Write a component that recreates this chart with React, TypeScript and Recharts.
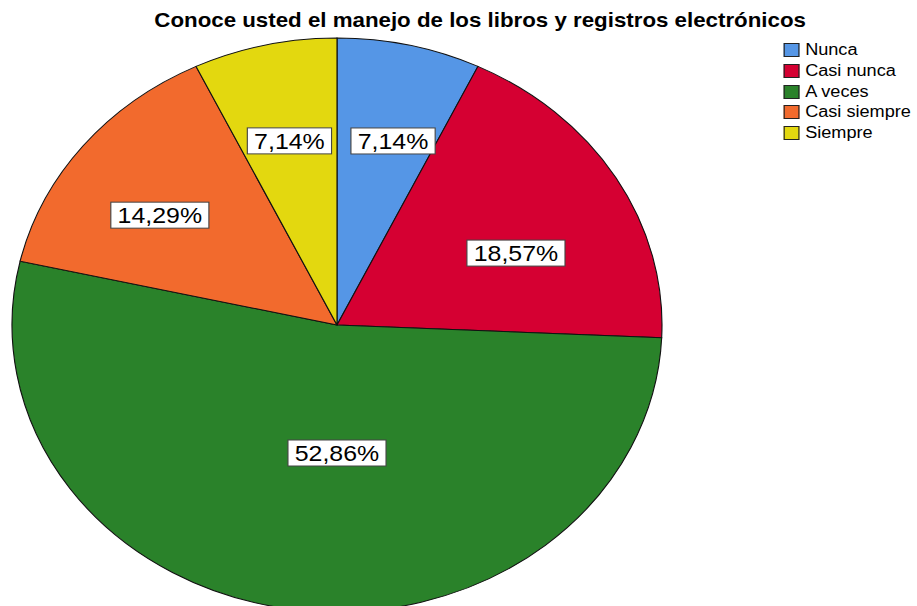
import { PieChart, Pie, Cell } from "recharts";

const categories = ["Nunca", "Casi nunca", "A veces", "Casi siempre", "Siempre"];
const percents = [7.14, 18.57, 52.86, 14.29, 7.14];
const colors = ["#5596E6", "#D50032", "#2A822A", "#F26A2D", "#E3D80F"];
const labelTexts = ["7,14%", "18,57%", "52,86%", "14,29%", "7,14%"];

const title = "Conoce usted el manejo de los libros y registros electrónicos";

// the reference is stretched horizontally, so the whole frame is drawn narrow then scaled
const SX = 1.1324;
const FONT = "'Liberation Sans', Arial, sans-serif";
const RAD = Math.PI / 180;
// label placement: fraction of radius and angle nudge (deg) from the slice middle
const labelPlace: Record<string, [number, number]> = {
  Nunca: [0.664, -2.2],
  "Casi nunca": [0.605, -6.4],
  "A veces": [0.446, 7.7],
  "Casi siempre": [0.666, 3.5],
  Siempre: [0.658, 0],
};

const data = categories.map((name, i) => ({
  name,
  value: percents[i],
  text: labelTexts[i],
  color: colors[i],
}));

function textWidth(s: string, size: number) {
  let w = 0;
  for (const c of s) {
    if (c === ",") w += 0.278;
    else if (c === "%") w += 0.889;
    else w += 0.556;
  }
  return w * size;
}

function renderLabel(props: any) {
  const { cx, cy, midAngle, outerRadius, payload, name } = props;
  const [frac, nudge] = labelPlace[name] ?? [0.66, 0];
  const r = outerRadius * frac;
  const a = midAngle + nudge;
  const x = cx + r * Math.cos(-a * RAD);
  const y = cy + r * Math.sin(-a * RAD);
  const text = payload?.text ?? props.text;
  const w = textWidth(text, 22) + 12;
  const h = 26;
  return (
    <g>
      <rect x={x - w / 2} y={y - h / 2} width={w} height={h} fill="#fff" stroke="#444" strokeWidth={1} />
      <text x={x} y={y + 8} textAnchor="middle" fontFamily={FONT} fontSize={22} fill="#000">
        {text}
      </text>
    </g>
  );
}

export default function App() {
  return (
    <div style={{ position: "absolute", left: 0, top: 0, width: 917, height: 606, overflow: "hidden", background: "#fff" }}>
      <div style={{ position: "absolute", left: 0, top: 0, width: 810, height: 606, transform: `scaleX(${SX})`, transformOrigin: "0 0" }}>
        <div
          style={{
            position: "absolute",
            left: 0,
            top: 10,
            width: 848,
            textAlign: "center",
            fontFamily: FONT,
            fontWeight: "bold",
            fontSize: 19.7,
            lineHeight: "20px",
            color: "#000",
            whiteSpace: "nowrap",
          }}
        >
          {title}
        </div>
        <PieChart width={810} height={606} margin={{ top: 0, right: 0, bottom: 0, left: 0 }} style={{ position: "absolute", left: 0, top: 0 }}>
          <Pie
            data={data}
            dataKey="value"
            nameKey="name"
            cx={297.6}
            cy={325}
            outerRadius={287}
            startAngle={90}
            endAngle={-270}
            stroke="#111"
            strokeWidth={1}
            label={renderLabel}
            labelLine={false}
            isAnimationActive={false}
          >
            {data.map((d) => (
              <Cell key={d.name} fill={d.color} />
            ))}
          </Pie>
        </PieChart>
        <div style={{ position: "absolute", left: 692, top: 40, fontFamily: FONT, fontSize: 16, color: "#000" }}>
          {categories.map((c, i) => (
            <div key={c} style={{ display: "flex", alignItems: "center", height: 20.7 }}>
              <div
                style={{
                  width: 14,
                  height: 14,
                  background: colors[i],
                  border: "1px solid #222",
                  marginRight: 5,
                  boxSizing: "border-box",
                }}
              />
              <span style={{ lineHeight: "16px" }}>{c}</span>
            </div>
          ))}
        </div>
      </div>
    </div>
  );
}
